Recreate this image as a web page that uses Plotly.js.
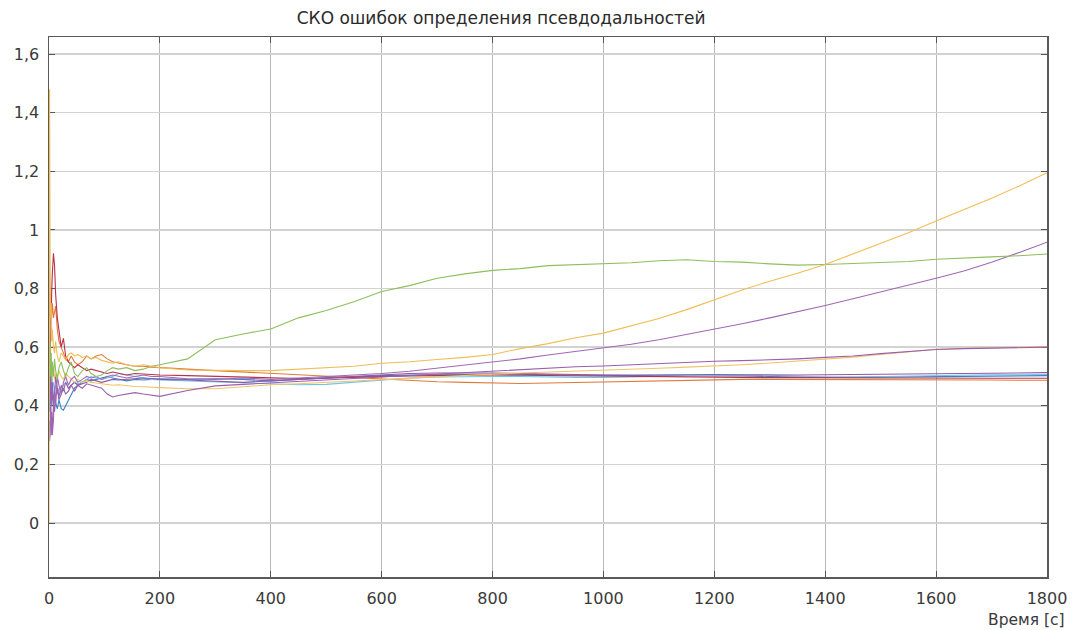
<!DOCTYPE html>
<html>
<head>
<meta charset="utf-8">
<script src="https://cdn.plot.ly/plotly-3.0.1.min.js"></script>
<style>
  html, body { margin: 0; padding: 0; background: #ffffff; }
  #chart { width: 1079px; height: 630px; }
</style>
</head>
<body>
<div id="chart"></div>
<script>
// Time samples, seconds
const t = [0,1,2,3,4,5,6,8,10,12,15,18,22,26,30,35,40,46,52,60,68,76,85,95,105,115,125,140,155,170,185,200,
           250,300,350,400,450,500,550,600,650,700,750,800,850,900,950,1000,1050,1100,1150,1200,1250,1300,1350,1400,1450,1500,1550,1600,1650,1700,1750,1800];

// RMS of pseudorange errors per satellite channel
const blue = [0.45,0.38,0.5,0.42,0.46,0.4,0.44,0.42,0.46,0.41,0.39,0.42,0.39,0.385,0.4,0.42,0.44,0.46,0.47,0.48,0.49,0.485,0.49,0.495,0.5,0.495,0.49,0.485,0.49,0.488,0.49,0.492,
              0.49,0.492,0.49,0.485,0.49,0.495,0.5,0.503,0.505,0.505,0.507,0.508,0.507,0.505,0.504,0.503,0.502,0.502,0.503,0.503,0.502,0.5,0.498,0.497,0.497,0.498,0.499,0.5,0.5,0.501,0.502,0.503];
const orange = [0.65,0.8,0.7,0.76,0.68,0.72,0.75,0.7,0.73,0.74,0.66,0.62,0.6,0.58,0.56,0.55,0.57,0.55,0.54,0.55,0.57,0.56,0.57,0.575,0.56,0.55,0.545,0.54,0.535,0.535,0.532,0.53,
                0.525,0.52,0.515,0.51,0.505,0.5,0.495,0.49,0.485,0.482,0.48,0.478,0.476,0.478,0.48,0.482,0.484,0.486,0.488,0.49,0.49,0.49,0.49,0.49,0.49,0.489,0.489,0.488,0.488,0.488,0.487,0.487];
const lightBlue = [0.4,0.5,0.42,0.48,0.44,0.5,0.46,0.48,0.45,0.47,0.44,0.46,0.45,0.47,0.48,0.46,0.47,0.48,0.475,0.48,0.49,0.5,0.495,0.49,0.495,0.5,0.51,0.505,0.5,0.495,0.49,0.488,
                   0.485,0.483,0.48,0.475,0.472,0.473,0.48,0.488,0.495,0.498,0.5,0.5,0.5,0.498,0.497,0.497,0.498,0.5,0.503,0.505,0.505,0.504,0.5,0.498,0.498,0.5,0.502,0.503,0.505,0.506,0.506,0.507];
const darkRed = [0.5,0.6,0.55,0.7,0.65,0.8,0.85,0.92,0.88,0.78,0.7,0.65,0.6,0.63,0.57,0.55,0.54,0.53,0.54,0.53,0.52,0.525,0.52,0.515,0.51,0.515,0.51,0.505,0.51,0.508,0.505,0.505,
                 0.503,0.5,0.497,0.495,0.493,0.495,0.498,0.5,0.502,0.503,0.505,0.505,0.504,0.503,0.502,0.5,0.499,0.498,0.498,0.497,0.497,0.496,0.496,0.495,0.495,0.495,0.495,0.494,0.494,0.494,0.494,0.494];
const purpleC = [0.55,0.48,0.4,0.35,0.3,0.36,0.32,0.4,0.38,0.43,0.46,0.42,0.44,0.46,0.44,0.45,0.47,0.48,0.47,0.475,0.48,0.49,0.485,0.48,0.485,0.49,0.488,0.49,0.492,0.495,0.493,0.49,
                 0.488,0.485,0.48,0.485,0.49,0.495,0.5,0.505,0.51,0.512,0.513,0.512,0.51,0.508,0.506,0.505,0.505,0.506,0.507,0.507,0.506,0.505,0.505,0.506,0.507,0.508,0.509,0.51,0.511,0.512,0.512,0.513];
const yellowB = [0.6,0.7,0.52,0.6,0.48,0.55,0.5,0.53,0.49,0.51,0.5,0.52,0.5,0.49,0.51,0.5,0.49,0.48,0.49,0.48,0.485,0.48,0.478,0.475,0.472,0.47,0.472,0.468,0.466,0.465,0.463,0.462,
                 0.458,0.458,0.465,0.472,0.475,0.48,0.485,0.49,0.495,0.5,0.505,0.508,0.512,0.515,0.518,0.52,0.523,0.528,0.532,0.535,0.54,0.546,0.552,0.558,0.566,0.575,0.585,0.593,0.596,0.598,0.6,0.602];
const purpleB = [0.5,0.6,0.45,0.38,0.55,0.42,0.48,0.4,0.44,0.5,0.46,0.43,0.47,0.45,0.48,0.46,0.47,0.45,0.47,0.46,0.475,0.47,0.465,0.46,0.44,0.43,0.435,0.44,0.445,0.44,0.435,0.432,
                 0.452,0.468,0.473,0.478,0.483,0.49,0.495,0.5,0.505,0.51,0.515,0.52,0.525,0.53,0.533,0.536,0.54,0.545,0.548,0.552,0.554,0.556,0.56,0.565,0.57,0.578,0.585,0.592,0.595,0.597,0.598,0.6];
const purpleA = [0.35,0.28,0.3,0.42,0.33,0.38,0.3,0.35,0.45,0.4,0.5,0.47,0.44,0.48,0.5,0.47,0.49,0.5,0.48,0.49,0.5,0.495,0.5,0.49,0.5,0.505,0.5,0.495,0.5,0.505,0.5,0.5,
                 0.492,0.49,0.495,0.49,0.495,0.5,0.505,0.51,0.518,0.528,0.54,0.55,0.56,0.573,0.585,0.597,0.61,0.625,0.643,0.662,0.68,0.7,0.72,0.742,0.765,0.788,0.81,0.835,0.86,0.89,0.923,0.958];
const green = [0.45,0.55,0.62,0.5,0.58,0.48,0.55,0.5,0.56,0.52,0.49,0.53,0.55,0.52,0.5,0.53,0.55,0.51,0.5,0.52,0.53,0.51,0.5,0.505,0.52,0.53,0.525,0.53,0.52,0.525,0.535,0.54,
               0.56,0.625,0.645,0.662,0.7,0.725,0.755,0.79,0.81,0.835,0.85,0.862,0.868,0.878,0.882,0.884,0.888,0.895,0.898,0.892,0.89,0.884,0.88,0.882,0.886,0.89,0.892,0.9,0.905,0.908,0.912,0.918];
const yellowA = [0,1.48,0.9,0.7,0.75,0.62,0.66,0.6,0.58,0.62,0.57,0.55,0.58,0.57,0.555,0.575,0.58,0.57,0.575,0.565,0.57,0.56,0.565,0.555,0.55,0.545,0.55,0.54,0.535,0.54,0.535,0.53,
                 0.522,0.52,0.52,0.52,0.525,0.53,0.535,0.545,0.55,0.558,0.565,0.575,0.595,0.612,0.632,0.648,0.672,0.698,0.728,0.762,0.795,0.825,0.852,0.882,0.918,0.952,0.99,1.03,1.068,1.108,1.15,1.195];

const seriesList = [blue, orange, lightBlue, darkRed, purpleC, yellowB, purpleB, purpleA, green, yellowA];
const seriesColors = ['#3a80c4', '#e07a3c', '#6cc3ec', '#b8334a', '#8f5aa3', '#f0c466', '#9a5fae', '#a068b4', '#8fbe5c', '#efbd55'];

const yTicks = [0, 0.2, 0.4, 0.6, 0.8, 1, 1.2, 1.4, 1.6];
const yTickText = ['0', '0,2', '0,4', '0,6', '0,8', '1', '1,2', '1,4', '1,6'];
const xTicks = [0, 200, 400, 600, 800, 1000, 1200, 1400, 1600, 1800];

const traces = seriesList.map((vals, i) => ({
  x: t,
  y: vals,
  type: 'scatter',
  mode: 'lines',
  line: { color: seriesColors[i], width: 1.1 },
  hoverinfo: 'skip',
  showlegend: false
}));

const axisFont = { family: 'DejaVu Sans, Verdana, sans-serif', size: 16, color: '#3a3a3a' };

const layout = {
  width: 1079,
  height: 630,
  margin: { l: 49, r: 32, t: 37, b: 53 },
  paper_bgcolor: '#ffffff',
  plot_bgcolor: '#ffffff',
  showlegend: false,
  title: {
    text: 'СКО ошибок определения псевдодальностей',
    font: { family: 'DejaVu Sans, Verdana, sans-serif', size: 17, color: '#2a2a2a' },
    xref: 'paper', x: 0.453, xanchor: 'center',
    yref: 'container', y: 0.971, yanchor: 'middle'
  },
  xaxis: {
    range: [0, 1800],
    tickvals: xTicks,
    ticktext: xTicks.map(String),
    tickfont: axisFont,
    ticks: 'inside', ticklen: 6, tickcolor: '#555', tickwidth: 1,
    showline: true, linecolor: '#5a5a5a', linewidth: 1.5, mirror: 'ticks',
    showgrid: true, gridcolor: '#b8b8b8', gridwidth: 1,
    zeroline: false,
    ticklabelstandoff: 6,
    layer: 'below traces'
  },
  yaxis: {
    range: [-0.184, 1.658],
    tickvals: yTicks,
    ticktext: yTickText,
    tickfont: axisFont,
    ticks: 'inside', ticklen: 6, tickcolor: '#555', tickwidth: 1,
    showline: true, linecolor: '#5a5a5a', linewidth: 1.5, mirror: 'ticks',
    showgrid: true, gridcolor: '#d2d2d2', gridwidth: 1.5,
    zeroline: false,
    ticklabelstandoff: 5,
    layer: 'below traces'
  },
  annotations: [{
    text: 'Время [с]',
    xref: 'paper', x: 1.02, xanchor: 'right',
    yref: 'paper', y: -0.0796, yanchor: 'middle',
    showarrow: false,
    font: { family: 'DejaVu Sans, Verdana, sans-serif', size: 15.5, color: '#3a3a3a' }
  }]
};

Plotly.newPlot('chart', traces, layout, { staticPlot: true, displayModeBar: false });
</script>
</body>
</html>
